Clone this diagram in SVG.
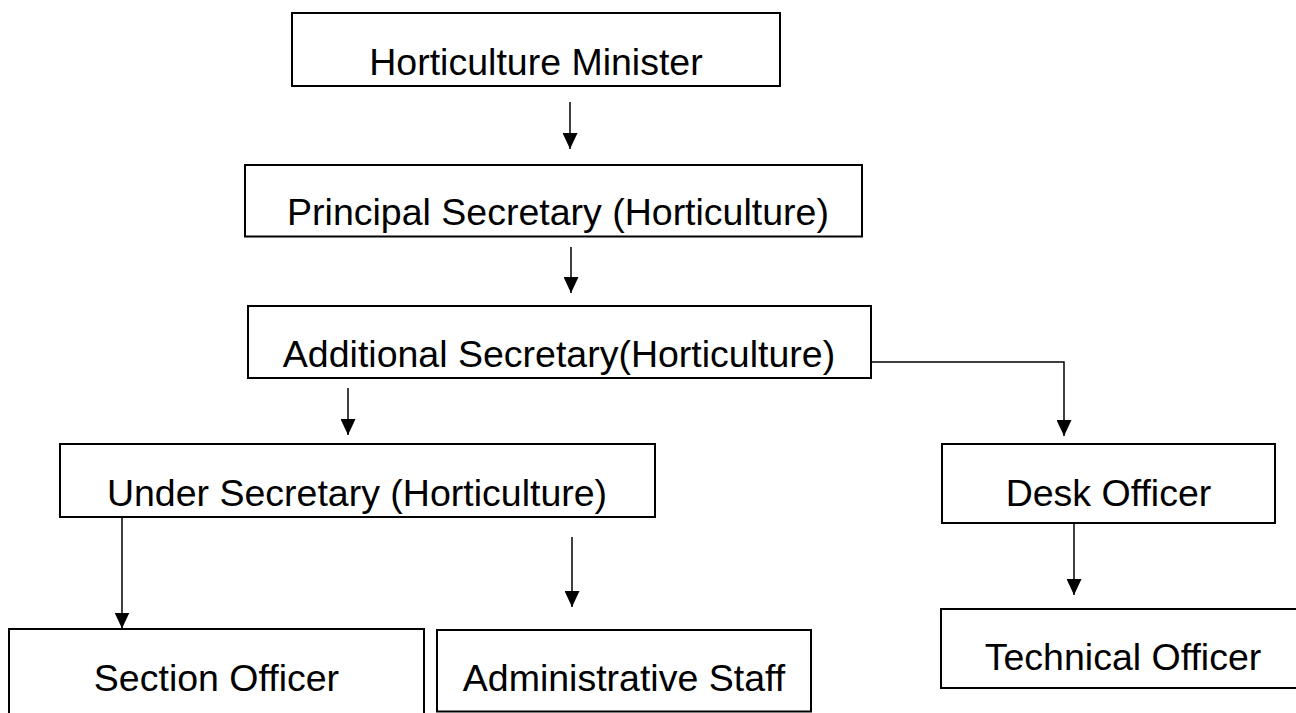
<svg xmlns="http://www.w3.org/2000/svg" width="1296" height="713" viewBox="0 0 1296 713">
  <style>
    .box { fill: #ffffff; stroke: #000000; stroke-width: 2; }
    .lbl { font-family: "Liberation Sans", Arial, sans-serif; font-size: 37.5px; fill: #000000; text-anchor: middle; }
    .conn { fill: none; stroke: #000000; stroke-width: 1.5; }
  </style>
  <defs>
    <marker id="arrow" markerUnits="userSpaceOnUse" markerWidth="16" markerHeight="15" refX="16" refY="7.5" orient="auto">
      <path d="M0,0 L16,7.5 L0,15 z" fill="#000000"/>
    </marker>
  </defs>
  <rect width="1296" height="713" fill="#ffffff"/>

  <g id="node-minister">
    <rect class="box" x="292" y="13" width="488" height="73"/>
    <text class="lbl" x="536" y="75">Horticulture Minister</text>
  </g>
  <g id="node-principal">
    <rect class="box" x="245" y="165" width="617" height="71.5"/>
    <text class="lbl" x="558" y="225">Principal Secretary (Horticulture)</text>
  </g>
  <g id="node-additional">
    <rect class="box" x="248" y="306" width="623" height="72"/>
    <text class="lbl" x="559" y="367">Additional Secretary(Horticulture)</text>
  </g>
  <g id="node-under">
    <rect class="box" x="60" y="444" width="595" height="73"/>
    <text class="lbl" x="357" y="506">Under Secretary (Horticulture)</text>
  </g>
  <g id="node-desk">
    <rect class="box" x="942" y="444" width="333" height="79"/>
    <text class="lbl" x="1108.5" y="506">Desk Officer</text>
  </g>
  <g id="node-section">
    <rect class="box" x="9" y="629" width="415" height="120"/>
    <text class="lbl" x="216.5" y="691">Section Officer</text>
  </g>
  <g id="node-admin">
    <rect class="box" x="437" y="630" width="374" height="81.5"/>
    <text class="lbl" x="624" y="691">Administrative Staff</text>
  </g>
  <g id="node-technical">
    <rect class="box" x="941" y="609" width="364" height="79"/>
    <text class="lbl" x="1123" y="670">Technical Officer</text>
  </g>

  <g id="connectors">
    <line class="conn" x1="570" y1="102" x2="570" y2="149" marker-end="url(#arrow)"/>
    <line class="conn" x1="571" y1="247" x2="571" y2="293" marker-end="url(#arrow)"/>
    <line class="conn" x1="348" y1="388" x2="348" y2="435" marker-end="url(#arrow)"/>
    <polyline class="conn" points="871,362 1064,362 1064,436" marker-end="url(#arrow)"/>
    <line class="conn" x1="122" y1="517" x2="122" y2="628.5" marker-end="url(#arrow)"/>
    <line class="conn" x1="572" y1="537" x2="572" y2="607" marker-end="url(#arrow)"/>
    <line class="conn" x1="1074" y1="523" x2="1074" y2="595" marker-end="url(#arrow)"/>
  </g>
</svg>
